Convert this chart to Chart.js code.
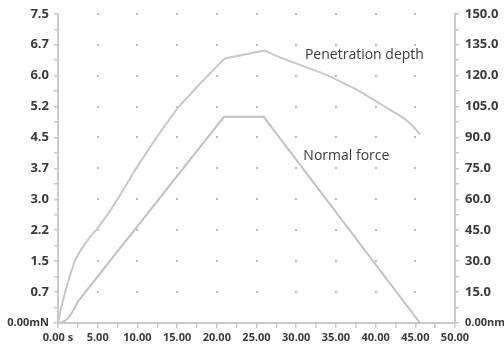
<!DOCTYPE html>
<html>
<head>
<meta charset="utf-8">
<script src="https://cdn.jsdelivr.net/npm/chart.js@4"></script>
<style>
	html, body { margin: 0; padding: 0; background: #fff; }
	#wrap { width: 504px; height: 351px; }
</style>
</head>
<body>
<div id="wrap"><canvas id="indentChart"></canvas></div>
<script>
// time (s) / normal force (mN)
const forceTimes = [0, 0.6, 1.2, 1.8, 2.5, 20.9, 25.9, 45.6];
const forceValues = [0, 0.02, 0.1, 0.26, 0.52, 5.0, 5.0, 0];

// time (s) / penetration depth (nm)
const depthTimes = [0, 0.3, 0.9, 1.5, 2.1, 2.8, 3.5, 4.2, 4.9, 6.5, 7.8, 10, 12.5, 15, 17.5, 20, 21, 26, 27.5, 28.8, 31, 33, 34.7, 37.5, 40.1, 42, 43.5, 44.5, 45.6];
const depthValues = [0, 6, 15, 23, 30, 35, 39, 42.5, 45.5, 54, 62, 76, 90.5, 104, 114.5, 124.5, 128.3, 132.2, 129.6, 127.6, 124.5, 121.6, 118.8, 113.5, 107.5, 103, 99.5, 96.3, 91.5];

const xTickLabels = ["0.00 s", "5.00", "10.00", "15.00", "20.00", "25.00", "30.00", "35.00", "40.00", "45.00", "50.00"];
const leftTickLabels = ["0.00mN", "0.7", "1.5", "2.2", "3.0", "3.7", "4.5", "5.2", "6.0", "6.7", "7.5"];
const rightTickLabels = ["0.00nm", "15.0", "30.0", "45.0", "60.0", "75.0", "90.0", "105.0", "120.0", "135.0", "150.0"];

const axisColor = "#c9c9c9";
const textColor = "#3a3a3a";
const fontFamily = "'Open Sans', sans-serif";
const xFont = { family: fontFamily, size: 11, weight: "bold" };
// the zero label on the value axes is smaller than the others
const yFont = (c) => ({ family: fontFamily, size: c.index === 0 ? 11 : 13, weight: "bold" });

// every second tick is a minor one, without label
const majorLabel = (labels) => (value, index) => (index % 2 === 0 ? labels[index / 2] : "");

const dotGrid = {
	id: "dotGrid",
	beforeDatasetsDraw(chart) {
		const { ctx, scales } = chart;
		const x = scales.x;
		const y = scales.yL;
		ctx.save();
		ctx.fillStyle = "#bdbdbd";
		for (let i = 1; i < xTickLabels.length - 1; i++) {
			const px = x.getPixelForValue(i * 5);
			for (let j = 1; j < leftTickLabels.length; j++) {
				const py = y.getPixelForValue(j * 0.75);
				ctx.fillRect(Math.round(px) - 1, Math.round(py) - 1, 2, 2);
			}
		}
		ctx.restore();
	},
};

const seriesNames = {
	id: "seriesNames",
	afterDatasetsDraw(chart) {
		const { ctx, scales } = chart;
		ctx.save();
		ctx.fillStyle = textColor;
		ctx.font = "14px " + fontFamily;
		ctx.textBaseline = "middle";
		ctx.textAlign = "left";
		ctx.fillText("Penetration depth", scales.x.getPixelForValue(31.1), scales.yR.getPixelForValue(130.2));
		ctx.fillText("Normal force", scales.x.getPixelForValue(30.9), scales.yL.getPixelForValue(4.05));
		ctx.restore();
	},
};

const ctx = document.getElementById("indentChart").getContext("2d");

new Chart(ctx, {
	type: "line",
	data: {
		datasets: [
			{
				label: "Normal force",
				data: forceTimes.map((t, i) => ({ x: t, y: forceValues[i] })),
				yAxisID: "yL",
				borderColor: "#c2c2c2",
				borderWidth: 2,
				pointRadius: 0,
				tension: 0,
			},
			{
				label: "Penetration depth",
				data: depthTimes.map((t, i) => ({ x: t, y: depthValues[i] })),
				yAxisID: "yR",
				borderColor: "#c8c8c8",
				borderWidth: 2,
				pointRadius: 0,
				tension: 0,
			},
		],
	},
	options: {
		responsive: true,
		maintainAspectRatio: false,
		animation: false,
		layout: { padding: { top: 11, left: 0, right: 0, bottom: 0 } },
		plugins: {
			legend: { display: false },
			tooltip: { enabled: false },
		},
		scales: {
			x: {
				type: "linear",
				min: 0,
				max: 50,
				afterFit: (s) => { s.height = 28; },
				ticks: {
					stepSize: 2.5,
					autoSkip: false,
					maxRotation: 0,
					color: textColor,
					font: xFont,
					padding: 3,
					callback: majorLabel(xTickLabels),
				},
				grid: { drawOnChartArea: false, color: axisColor, tickLength: 5, lineWidth: 1.5 },
				border: { color: axisColor, width: 2 },
			},
			yL: {
				type: "linear",
				position: "left",
				min: 0,
				max: 7.5,
				afterFit: (s) => { s.width = 58; },
				ticks: {
					stepSize: 0.375,
					autoSkip: false,
					color: textColor,
					font: yFont,
					padding: 5,
					callback: majorLabel(leftTickLabels),
				},
				grid: { drawOnChartArea: false, color: axisColor, tickLength: 4, lineWidth: 1.5 },
				border: { color: axisColor, width: 2 },
			},
			yR: {
				type: "linear",
				position: "right",
				min: 0,
				max: 150,
				afterFit: (s) => { s.width = 49; },
				ticks: {
					stepSize: 7.5,
					autoSkip: false,
					color: textColor,
					font: yFont,
					padding: 6,
					callback: majorLabel(rightTickLabels),
				},
				grid: { drawOnChartArea: false, color: axisColor, tickLength: 4, lineWidth: 1.5 },
				border: { color: axisColor, width: 2 },
			},
		},
	},
	plugins: [dotGrid, seriesNames],
});
</script>
</body>
</html>
